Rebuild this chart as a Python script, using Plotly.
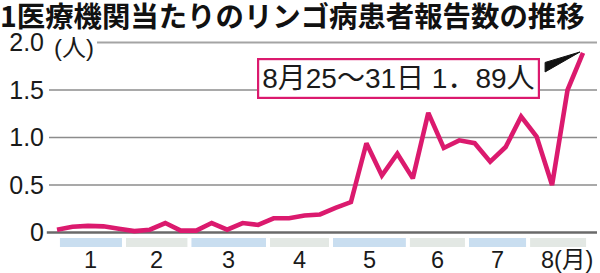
import plotly.graph_objects as go

# Weekly reports per medical institution, weeks 1-35 of 2025
week_index = list(range(35))
patients = [0.03, 0.06, 0.07, 0.065, 0.04, 0.015, 0.03, 0.10, 0.02, 0.02,
            0.10, 0.03, 0.10, 0.08, 0.15, 0.15, 0.18, 0.19, 0.26, 0.32,
            0.94, 0.60, 0.83, 0.57, 1.26, 0.89, 0.97, 0.94, 0.745, 0.90,
            1.22, 1.01, 0.50, 1.50, 1.89]

month_labels = ["1", "2", "3", "4", "5", "6", "7", "8(月)"]
# month boundaries expressed in week-index units
month_bounds = [0.06, 4.33, 8.56, 13.64, 17.71, 22.68, 26.5, 30.45, 34.33]
y_tickvals = [0, 0.5, 1.0, 1.5, 2.0]
y_ticktext = ["0", "0.5", "1.0", "1.5", "2.0"]

title_text = "1医療機関当たりのリンゴ病患者報告数の推移"
callout_text = "8月25～31日 1．89人"

MAGENTA = "#db1a6e"
FONT = "Liberation Sans, Noto Sans CJK JP, sans-serif"
CJK = "Noto Sans CJK JP, sans-serif"

fig = go.Figure()
fig.add_trace(go.Scatter(
    x=week_index, y=patients, mode="lines",
    line=dict(color=MAGENTA, width=4.6),
    cliponaxis=False, hoverinfo="skip", showlegend=False,
))

shapes = []
# grid lines
for v in y_tickvals:
    if v == 0:
        shapes.append(dict(type="line", xref="paper", yref="y", x0=-0.004, x1=1,
                           y0=0, y1=0, line=dict(color="#6a6a6a", width=2.6), layer="below"))
    elif v == 2.0:
        shapes.append(dict(type="line", xref="paper", yref="y", x0=0.0876, x1=1,
                           y0=v, y1=v, line=dict(color="#a4a4a4", width=2.2), layer="below"))
    else:
        shapes.append(dict(type="line", xref="paper", yref="y", x0=0, x1=1,
                           y0=v, y1=v, line=dict(color="#8c8c8c", width=1.6), layer="below"))

# month bands
band_colors = ["#c9def0", "#e3e8e4"]
annotations = []
for k, lab in enumerate(month_labels):
    x0 = month_bounds[k] + 0.13
    x1 = month_bounds[k + 1] - 0.13
    shapes.append(dict(type="rect", xref="x", yref="y", x0=x0, x1=x1,
                       y0=-0.153, y1=-0.058, fillcolor=band_colors[k % 2],
                       line=dict(width=0), layer="below"))
    if k < len(month_labels) - 1:
        annotations.append(dict(x=(x0 + x1) / 2 + 0.0, y=-0.29, xref="x", yref="y",
                                text=lab, showarrow=False, xanchor="center", yanchor="middle",
                                font=dict(size=23.5, color="#1a1a1a", family=FONT)))
    else:
        annotations.append(dict(x=x0 + 0.55, y=-0.29, xref="x", yref="y",
                                text=lab, showarrow=False, xanchor="left", yanchor="middle",
                                font=dict(size=23.5, color="#1a1a1a", family=FONT)))

# unit label next to top tick
annotations.append(dict(x=0.006, y=1.95, xref="paper", yref="y", text="(人)",
                        showarrow=False, xanchor="left", yanchor="middle",
                        font=dict(size=24, color="#1a1a1a", family=FONT)))

# callout pointer wedge
last_x = week_index[-1]
last_y = patients[-1]
shapes.append(dict(type="path", xref="x", yref="y",
                   path=f"M 31.55 1.79 L {last_x - 0.2} {last_y + 0.01} L 31.55 1.69 Z",
                   fillcolor="#111111", line=dict(color="#111111", width=1)))

annotations.append(dict(x=22.07, y=1.626, xref="x", yref="y", text=callout_text,
                        showarrow=False, xanchor="center", yanchor="middle",
                        bgcolor="white", bordercolor=MAGENTA, borderwidth=2.2, borderpad=3,
                        font=dict(size=28, color="#1a1a1a", family=FONT)))

fig.update_layout(
    width=600, height=273,
    margin=dict(l=49, r=3, t=33, b=0),
    paper_bgcolor="white", plot_bgcolor="white",
    title=dict(text="<b>" + title_text + "</b>", x=0, xref="container", xanchor="left",
               y=1 - 17.5 / 273, yref="container", yanchor="middle",
               font=dict(size=28.4, color="#111111", family=CJK)),
    xaxis=dict(range=[-0.517, 34.905], visible=False, fixedrange=True),
    yaxis=dict(range=[-0.426, 2.1], showgrid=False, zeroline=False, showline=False,
               tickvals=y_tickvals, ticktext=y_ticktext, ticks="",
               ticklabelstandoff=4,
               tickfont=dict(size=25, color="#1a1a1a", family=FONT), fixedrange=True),
    shapes=shapes,
    annotations=annotations,
    showlegend=False,
)

fig.write_html("out.html")
